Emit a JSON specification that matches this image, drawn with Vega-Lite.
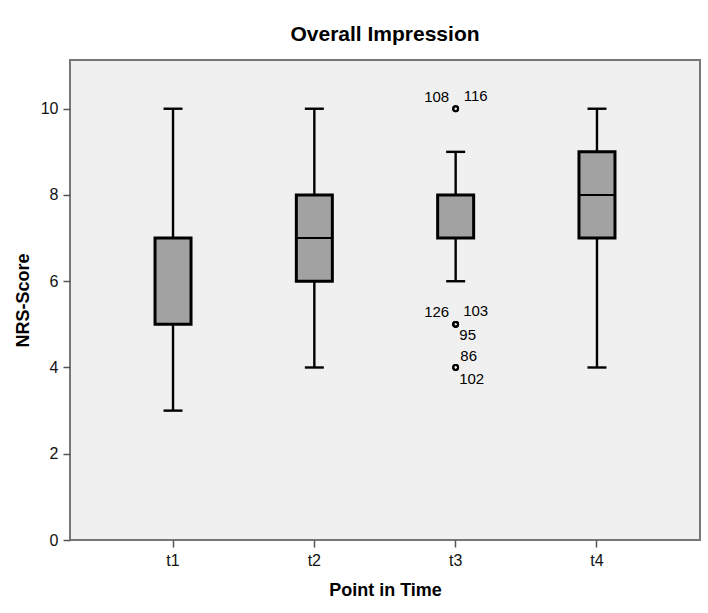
{
  "$schema": "https://vega.github.io/schema/vega-lite/v6.json",
  "width": 630,
  "height": 480,
  "autosize": {"type": "none"},
  "padding": {"left": 70, "top": 60, "right": 8, "bottom": 73},
  "background": "white",
  "title": {"text": "Overall Impression", "fontSize": 21, "fontWeight": "bold", "font": "Liberation Sans", "color": "#000", "offset": 15, "anchor": "middle"},
  "datasets": {
    "boxes": [
      {"t": "t1", "lo": 3, "q1": 5, "med": 7, "q3": 7, "hi": 10},
      {"t": "t2", "lo": 4, "q1": 6, "med": 7, "q3": 8, "hi": 10},
      {"t": "t3", "lo": 6, "q1": 7, "med": 8, "q3": 8, "hi": 9},
      {"t": "t4", "lo": 4, "q1": 7, "med": 8, "q3": 9, "hi": 10}
    ],
    "outliers": [
      {"t": "t3", "score": 10, "label": "108"},
      {"t": "t3", "score": 10, "label": "116"},
      {"t": "t3", "score": 5, "label": "126"},
      {"t": "t3", "score": 5, "label": "103"},
      {"t": "t3", "score": 5, "label": "95"},
      {"t": "t3", "score": 4, "label": "86"},
      {"t": "t3", "score": 4, "label": "102"}
    ]
  },
  "encoding": {
    "x": {
      "field": "t", "type": "nominal",
      "scale": {"domain": ["t1", "t2", "t3", "t4"], "paddingInner": 0, "paddingOuter": 0.229},
      "axis": {"title": "Point in Time", "labelAngle": 0, "titlePadding": 13}
    }
  },
  "layer": [
    {
      "data": {"name": "boxes"},
      "mark": {"type": "rule", "color": "#000", "strokeWidth": 2.4, "opacity": 1},
      "encoding": {
        "y": {"field": "lo", "type": "quantitative", "scale": {"domain": [0, 11.13], "nice": false, "zero": true},
          "axis": {"title": "NRS-Score", "values": [0, 2, 4, 6, 8, 10], "titlePadding": 8}},
        "y2": {"field": "hi"}
      }
    },
    {
      "data": {"name": "boxes"},
      "mark": {"type": "tick", "color": "#000", "opacity": 1, "thickness": 2.4, "size": 19, "orient": "horizontal"},
      "encoding": {"y": {"field": "lo", "type": "quantitative"}}
    },
    {
      "data": {"name": "boxes"},
      "mark": {"type": "tick", "color": "#000", "opacity": 1, "thickness": 2.4, "size": 19, "orient": "horizontal"},
      "encoding": {"y": {"field": "hi", "type": "quantitative"}}
    },
    {
      "data": {"name": "boxes"},
      "mark": {"type": "bar", "size": 36, "fill": "#a2a2a2", "stroke": "#000", "strokeWidth": 3, "opacity": 1},
      "encoding": {
        "y": {"field": "q1", "type": "quantitative"},
        "y2": {"field": "q3"}
      }
    },
    {
      "data": {"name": "boxes"},
      "mark": {"type": "tick", "color": "#000", "opacity": 1, "thickness": 2, "size": 36, "orient": "horizontal"},
      "encoding": {"y": {"field": "med", "type": "quantitative"}}
    },
    {
      "data": {"name": "outliers"},
      "mark": {"type": "point", "shape": "circle", "filled": false, "stroke": "#000", "strokeWidth": 2, "size": 24, "opacity": 1},
      "encoding": {"y": {"field": "score", "type": "quantitative"}}
    },
    {
      "data": {"name": "outliers"},
      "transform": [{"filter": "datum.label == '108' || datum.label == '126'"}],
      "mark": {"type": "text", "fontSize": 15, "font": "Liberation Sans", "color": "#000", "dx": -19, "dy": -12},
      "encoding": {"y": {"field": "score", "type": "quantitative"}, "text": {"field": "label"}}
    },
    {
      "data": {"name": "outliers"},
      "transform": [{"filter": "datum.label == '116' || datum.label == '103'"}],
      "mark": {"type": "text", "fontSize": 15, "font": "Liberation Sans", "color": "#000", "dx": 20, "dy": -13},
      "encoding": {"y": {"field": "score", "type": "quantitative"}, "text": {"field": "label"}}
    },
    {
      "data": {"name": "outliers"},
      "transform": [{"filter": "datum.label == '95'"}],
      "mark": {"type": "text", "fontSize": 15, "font": "Liberation Sans", "color": "#000", "dx": 12, "dy": 11},
      "encoding": {"y": {"field": "score", "type": "quantitative"}, "text": {"field": "label"}}
    },
    {
      "data": {"name": "outliers"},
      "transform": [{"filter": "datum.label == '86'"}],
      "mark": {"type": "text", "fontSize": 15, "font": "Liberation Sans", "color": "#000", "dx": 13, "dy": -11},
      "encoding": {"y": {"field": "score", "type": "quantitative"}, "text": {"field": "label"}}
    },
    {
      "data": {"name": "outliers"},
      "transform": [{"filter": "datum.label == '102'"}],
      "mark": {"type": "text", "fontSize": 15, "font": "Liberation Sans", "color": "#000", "dx": 16, "dy": 12},
      "encoding": {"y": {"field": "score", "type": "quantitative"}, "text": {"field": "label"}}
    }
  ],
  "config": {
    "font": "Liberation Sans",
    "view": {"fill": "#f0f0f0", "stroke": "#777777", "strokeWidth": 2},
    "axis": {
      "grid": false,
      "domain": false,
      "tickColor": "#555555",
      "tickSize": 7,
      "tickWidth": 1.5,
      "labelFont": "Liberation Sans",
      "labelFontSize": 16,
      "labelColor": "#111",
      "labelPadding": 5,
      "titleFont": "Liberation Sans",
      "titleFontSize": 18,
      "titleFontWeight": "bold",
      "titleColor": "#000"
    }
  }
}
